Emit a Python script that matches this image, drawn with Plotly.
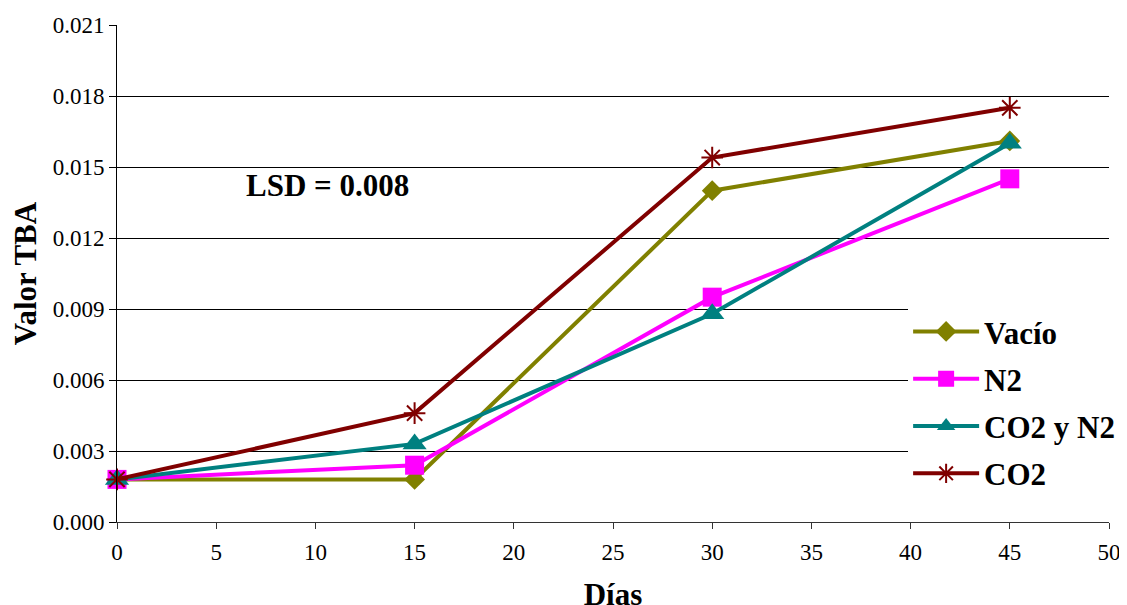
import plotly.graph_objects as go

dias = [0, 15, 30, 45]
vacio = [0.0018, 0.0018, 0.0140, 0.0161]
n2 = [0.0018, 0.0024, 0.0095, 0.0145]
co2_n2 = [0.0018, 0.0033, 0.0088, 0.0160]
co2 = [0.0018, 0.0046, 0.0154, 0.0175]

names = ["Vacío", "N2", "CO2 y N2", "CO2"]
series = [vacio, n2, co2_n2, co2]
colors = ["#808000", "#FF00FF", "#008080", "#800000"]
symbols = ["diamond", "square", "triangle-up", "asterisk-open"]
sizes = [16, 19, 21, 18]

FONT = "Liberation Serif"

fig = go.Figure()
for i, (nm, ys, c, s, sz) in enumerate(zip(names, series, colors, symbols, sizes)):
    mk = dict(symbol=s, size=sz, color=c)
    if s == "asterisk-open":
        mk["line"] = dict(color=c, width=2)
    else:
        mk["line"] = dict(width=0)
    fig.add_trace(go.Scatter(
        x=dias, y=ys, name=nm, mode="lines+markers",
        line=dict(color=c, width=4), marker=mk,
        legendgroup=f"g{i}", cliponaxis=False,
    ))

fig.add_annotation(
    x=6.4, y=0.0142, xref="x", yref="y", xanchor="left", yanchor="middle",
    text="<b>LSD = 0.008</b>", showarrow=False,
    font=dict(family=FONT, size=31, color="black"),
)

fig.update_layout(
    width=1127, height=605,
    paper_bgcolor="white", plot_bgcolor="white",
    margin=dict(l=109, r=26, t=17, b=91, autoexpand=False),
    font=dict(family=FONT, color="black"),
    showlegend=True,
    legend=dict(
        x=0.7975, y=0.437, xanchor="left", yanchor="top",
        bgcolor="white", borderwidth=0,
        font=dict(family=FONT, size=31, color="black", weight="bold"),
        tracegroupgap=4, traceorder="grouped", itemwidth=66,
    ),
    xaxis=dict(
        range=[0, 50], dtick=5, tick0=0, automargin=False,
        showgrid=False, zeroline=False,
        showline=True, linecolor="#333333", linewidth=1,
        ticks="outside", ticklen=6, tickcolor="#333333",
        ticklabelstandoff=3,
        tickfont=dict(family=FONT, size=23, color="black"),
        title=dict(text="<b>Días</b>", font=dict(family=FONT, size=31, color="black"), standoff=19),
    ),
    yaxis=dict(
        range=[0, 0.021], dtick=0.003, tick0=0, tickformat=".3f", automargin=False,
        showgrid=True, gridcolor="black", gridwidth=1,
        zeroline=False,
        showline=True, linecolor="black", linewidth=1,
        ticks="outside", ticklen=7, tickcolor="black",
        tickfont=dict(family=FONT, size=23, color="black"),
        title=dict(text="<b>Valor TBA</b>", font=dict(family=FONT, size=31, color="black"), standoff=14),
    ),
)

fig.write_html("out.html")
